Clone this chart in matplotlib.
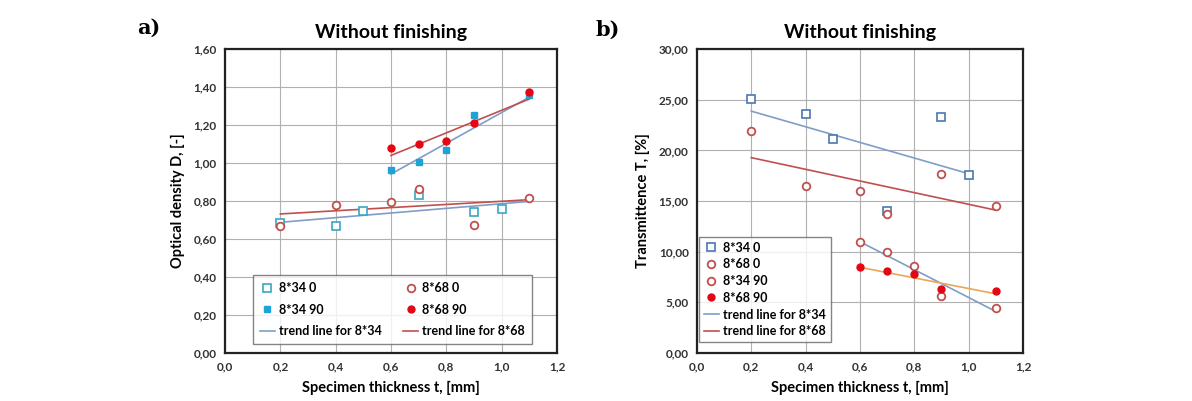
import matplotlib
matplotlib.use("Agg")
import matplotlib.pyplot as plt
from matplotlib.ticker import FuncFormatter, MultipleLocator
from matplotlib.lines import Line2D

plt.rcParams['font.family'] = ['Lato', 'DejaVu Sans']

# ---------- Panel a: optical density ----------
a_x_340 = [0.2, 0.4, 0.5, 0.7, 0.9, 1.0]
a_y_340 = [0.684, 0.667, 0.746, 0.830, 0.740, 0.760]
a_x_680 = [0.2, 0.4, 0.6, 0.7, 0.9, 1.1]
a_y_680 = [0.670, 0.780, 0.795, 0.863, 0.675, 0.816]
a_x_3490 = [0.6, 0.7, 0.8, 0.9, 1.1]
a_y_3490 = [0.961, 1.005, 1.067, 1.254, 1.360]
a_x_6890 = [0.6, 0.7, 0.8, 0.9, 1.1]
a_y_6890 = [1.079, 1.098, 1.118, 1.209, 1.372]
# trend line end points
a_tr34_lo_x = [0.2, 1.1]
a_tr34_lo_y = [0.688, 0.798]
a_tr68_lo_x = [0.2, 1.1]
a_tr68_lo_y = [0.732, 0.807]
a_tr34_hi_x = [0.6, 1.1]
a_tr34_hi_y = [0.942, 1.347]
a_tr68_hi_x = [0.6, 1.1]
a_tr68_hi_y = [1.040, 1.337]

# ---------- Panel b: transmittance ----------
b_x_340 = [0.2, 0.4, 0.5, 0.7, 0.9, 1.0]
b_y_340 = [25.08, 23.60, 21.15, 14.03, 23.34, 17.60]
b_x_680 = [0.2, 0.4, 0.6, 0.7, 0.9, 1.1]
b_y_680 = [21.87, 16.50, 16.03, 13.70, 17.67, 14.46]
b_x_3490 = [0.6, 0.7, 0.8, 0.9, 1.1]
b_y_3490 = [10.98, 9.97, 8.62, 5.64, 4.49]
b_x_6890 = [0.6, 0.7, 0.8, 0.9, 1.1]
b_y_6890 = [8.49, 8.10, 7.77, 6.30, 6.13]
b_tr34_hi_x = [0.2, 1.0]
b_tr34_hi_y = [23.87, 17.70]
b_tr68_hi_x = [0.2, 1.1]
b_tr68_hi_y = [19.28, 14.10]
b_tr34_lo_x = [0.6, 1.1]
b_tr34_lo_y = [10.98, 4.10]
b_tr68_lo_x = [0.6, 1.1]
b_tr68_lo_y = [8.46, 5.84]

labels = ["8*34 0", "8*68 0", "8*34 90", "8*68 90",
          "trend line for 8*34", "trend line for 8*68"]

TEAL = "#3aa6c4"
TEAL_F = "#1fa3d6"
BLUE = "#4a78b0"
BLUE_L = "#7f9ec6"
RED = "#c0504d"
RED_F = "#e30613"
ORANGE = "#e9a65a"

fig = plt.figure(figsize=(11.92, 4.01), dpi=100)
axA = fig.add_axes([0.1888, 0.1197, 0.2785, 0.758])
axB = fig.add_axes([0.5847, 0.1197, 0.2735, 0.758])

def comma(nd):
    return FuncFormatter(lambda v, p: f"{v:.{nd}f}".replace(".", ","))

def style(ax, ymax, ystep, ynd, ylabel):
    ax.set_xlim(0, 1.2)
    ax.set_ylim(0, ymax)
    ax.xaxis.set_major_locator(MultipleLocator(0.2))
    ax.yaxis.set_major_locator(MultipleLocator(ystep))
    ax.xaxis.set_major_formatter(comma(1))
    ax.yaxis.set_major_formatter(comma(ynd))
    ax.grid(True, color="#b0b0b0", linewidth=0.8)
    ax.set_axisbelow(True)
    for s in ax.spines.values():
        s.set_linewidth(1.6)
        s.set_color("#222222")
    ax.tick_params(labelsize=8.5, length=0, pad=6, labelcolor="#333333")
    for lab in ax.get_xticklabels() + ax.get_yticklabels():
        lab.set_fontweight("bold")
    ax.set_xlabel("Specimen thickness t, [mm]", fontsize=10.5, fontweight="bold", labelpad=6)
    ax.set_ylabel(ylabel, fontsize=10.5, fontweight="bold", labelpad=6)
    ax.set_title("Without finishing", fontsize=14, fontweight="bold", pad=8)

ms = 5.5
msf = 5.0
lw = 1.2
# Panel a
axA.plot(a_tr34_lo_x, a_tr34_lo_y, color=BLUE_L, lw=lw)
axA.plot(a_tr68_lo_x, a_tr68_lo_y, color=RED, lw=lw)
axA.plot(a_tr34_hi_x, a_tr34_hi_y, color=BLUE_L, lw=lw)
axA.plot(a_tr68_hi_x, a_tr68_hi_y, color=RED, lw=lw)
axA.plot(a_x_340, a_y_340, ls="none", marker="s", ms=ms, mfc="white", mec=TEAL, mew=1.2)
axA.plot(a_x_680, a_y_680, ls="none", marker="o", ms=ms, mfc="white", mec=RED, mew=1.3)
axA.plot(a_x_3490, a_y_3490, ls="none", marker="s", ms=msf, mfc=TEAL_F, mec=TEAL_F)
axA.plot(a_x_6890, a_y_6890, ls="none", marker="o", ms=msf, mfc=RED_F, mec=RED_F)
style(axA, 1.6, 0.2, 2, "Optical density D, [-]")

hA = [
    Line2D([], [], ls="none", marker="s", ms=ms, mfc="white", mec=TEAL, mew=1.2),
    Line2D([], [], ls="none", marker="s", ms=msf, mfc=TEAL_F, mec=TEAL_F),
    Line2D([], [], color=BLUE_L, lw=lw),
    Line2D([], [], ls="none", marker="o", ms=ms, mfc="white", mec=RED, mew=1.3),
    Line2D([], [], ls="none", marker="o", ms=msf, mfc=RED_F, mec=RED_F),
    Line2D([], [], color=RED, lw=lw),
]
lA = [labels[0], labels[2], labels[4], labels[1], labels[3], labels[5]]
legA = axA.legend(hA, lA, ncol=2, loc="lower left", bbox_to_anchor=(0.084, 0.03, 0.84, 0.25),
                  mode="expand", borderaxespad=0, fontsize=9, frameon=True, fancybox=False,
                  edgecolor="#666666", handlelength=1.2, handletextpad=0.3,
                  labelspacing=0.75, borderpad=0.55, columnspacing=1.0)
legA.get_frame().set_linewidth(1.0)
for t in legA.get_texts():
    t.set_fontweight("bold")

# Panel b
axB.plot(b_tr34_hi_x, b_tr34_hi_y, color=BLUE_L, lw=lw)
axB.plot(b_tr68_hi_x, b_tr68_hi_y, color=RED, lw=lw)
axB.plot(b_tr34_lo_x, b_tr34_lo_y, color=BLUE_L, lw=lw)
axB.plot(b_tr68_lo_x, b_tr68_lo_y, color=ORANGE, lw=lw)
axB.plot(b_x_340, b_y_340, ls="none", marker="s", ms=ms, mfc="white", mec=BLUE, mew=1.2)
axB.plot(b_x_680, b_y_680, ls="none", marker="o", ms=ms, mfc="white", mec=RED, mew=1.3)
axB.plot(b_x_3490, b_y_3490, ls="none", marker="o", ms=ms, mfc="white", mec=RED, mew=1.3)
axB.plot(b_x_6890, b_y_6890, ls="none", marker="o", ms=msf, mfc=RED_F, mec=RED_F)
style(axB, 30, 5, 2, "Transmittence T, [%]")

hB = [
    Line2D([], [], ls="none", marker="s", ms=ms, mfc="white", mec=BLUE, mew=1.2),
    Line2D([], [], ls="none", marker="o", ms=ms, mfc="white", mec=RED, mew=1.3),
    Line2D([], [], ls="none", marker="o", ms=ms, mfc="white", mec=RED, mew=1.3),
    Line2D([], [], ls="none", marker="o", ms=msf, mfc=RED_F, mec=RED_F),
    Line2D([], [], color=BLUE_L, lw=lw),
    Line2D([], [], color=RED, lw=lw),
]
legB = axB.legend(hB, labels, ncol=1, loc="lower left", bbox_to_anchor=(0.006, 0.035),
                  borderaxespad=0, fontsize=9, frameon=True, fancybox=False,
                  edgecolor="#666666", handlelength=1.2, handletextpad=0.3,
                  labelspacing=0.38, borderpad=0.4)
legB.get_frame().set_linewidth(1.0)
for t in legB.get_texts():
    t.set_fontweight("bold")

fig.text(0.115, 0.915, "a)", fontsize=15, fontweight="bold", family="DejaVu Serif")
fig.text(0.500, 0.91, "b)", fontsize=15, fontweight="bold", family="DejaVu Serif")

fig.savefig("out.png", dpi=100, facecolor="white")
